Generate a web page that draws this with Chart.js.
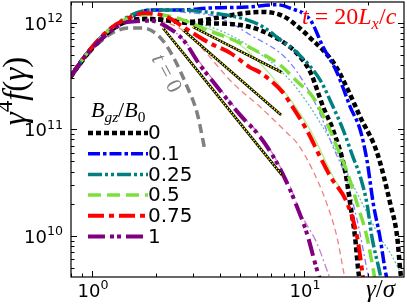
<!DOCTYPE html>
<html>
<head>
<meta charset="utf-8">
<script src="https://cdn.jsdelivr.net/npm/chart.js@4.4.0/dist/chart.umd.min.js"></script>
<style>
  html, body { margin: 0; padding: 0; background: #fff; }
  #wrap { width: 407px; height: 305px; }
</style>
</head>
<body>
<div id="wrap"><canvas id="c" width="407" height="305"></canvas></div>
<script>
// gamma/sigma (x) and gamma^4 f(gamma) (y)
const gT0 = [0.79, 0.98, 1.22, 1.5, 1.74, 2.09, 2.41, 2.81, 3.13, 3.41];
const fT0 = [3.0e11, 5.3e11, 7.8e11, 8.9e11, 8.9e11, 7.3e11, 4.8e11, 2.5e11, 1.42e11, 6.3e10];

const gB0 = [0.79, 0.98, 1.22, 1.51, 1.88, 2.9, 3.89, 4.99, 6.34, 7.96, 9.58, 11.0, 12.3, 14.0, 16.0, 18.4, 22.1, 25.5, 27.5, 28.4, 29.0];
const fB0 = [3.1e11, 5.5e11, 8.4e11, 1.05e12, 1.08e12, 1.02e12, 1.11e12, 1.21e12, 1.26e12, 1.15e12, 8.8e11, 6.8e11, 5.5e11, 4.0e11, 2.4e11, 1.3e11, 6.0e10, 2.0e10, 9.7e9, 4.8e9, 3.5e9];

const gB0b = [0.79, 0.98, 1.22, 1.51, 1.88, 2.9, 4.48, 6.2, 8.59, 9.58, 10.7, 12.3, 13.7, 15.6, 16.5, 17.4, 18.0, 18.3];
const fB0b = [3.1e11, 5.5e11, 8.4e11, 1.05e12, 1.08e12, 9.9e11, 9.7e11, 8.5e11, 5.9e11, 4.76e11, 3.44e11, 1.62e11, 9.8e10, 4.1e10, 2.0e10, 9.7e9, 4.8e9, 3.8e9];

const gB01 = [0.79, 0.98, 1.22, 1.51, 1.88, 2.6, 3.6, 5.38, 7.46, 8.59, 10.7, 12.3, 14.3, 16.5, 18.4, 19.8, 21.2, 22.8, 24.1, 24.6];
const fB01 = [3.1e11, 5.6e11, 8.7e11, 1.12e12, 1.31e12, 1.31e12, 1.37e12, 1.40e12, 1.47e12, 1.37e12, 1.06e12, 5.9e11, 3.4e11, 1.62e11, 9.8e10, 5.1e10, 2.0e10, 9.7e9, 4.8e9, 3.9e9];

const gB025 = [0.79, 0.98, 1.22, 1.51, 1.88, 2.6, 3.72, 5.38, 6.41, 7.71, 9.27, 11.9, 13.7, 15.3, 17.0, 18.4, 19.8, 20.9, 22.6, 23.1];
const fB025 = [3.1e11, 5.6e11, 8.7e11, 1.16e12, 1.31e12, 1.31e12, 1.23e12, 1.06e12, 9.1e11, 6.9e11, 5.2e11, 2.9e11, 1.62e11, 9.8e10, 5.5e10, 3.6e10, 2.0e10, 9.7e9, 4.8e9, 3.9e9];

const gB05 = [0.79, 0.98, 1.22, 1.51, 1.88, 2.33, 2.9, 3.49, 4.62, 6.2, 7.71, 9.27, 11.0, 12.8, 14.3, 16.0, 17.8, 19.8, 21.2, 21.6];
const fB05 = [3.1e11, 5.6e11, 8.7e11, 1.12e12, 1.2e12, 1.15e12, 1.0e12, 8.5e11, 6.9e11, 5.2e11, 4.0e11, 2.8e11, 2.0e11, 1.14e11, 6.8e10, 3.9e10, 2.0e10, 9.7e9, 4.8e9, 3.9e9];

const gB075 = [0.79, 0.98, 1.22, 1.51, 1.78, 2.26, 2.69, 3.6, 4.48, 5.56, 6.2, 7.96, 8.59, 10.3, 11.9, 13.3, 16.0, 17.8, 19.0];
const fB075 = [3.1e11, 5.6e11, 8.8e11, 1.12e12, 1.23e12, 1.13e12, 9.1e11, 6.4e11, 5.2e11, 3.8e11, 3.4e11, 2.2e11, 1.76e11, 9.8e10, 5.5e10, 3.6e10, 2.0e10, 9.7e9, 4.0e9];

const gB1 = [0.79, 0.98, 1.22, 1.46, 1.88, 2.26, 2.69, 3.23, 3.89, 4.99, 6.2, 7.46, 8.59, 9.27, 10.3, 11.5, 11.9];
const fB1 = [3.1e11, 5.5e11, 8.2e11, 1.01e12, 1.04e12, 9.1e11, 6.9e11, 4.0e11, 2.5e11, 1.36e11, 8.5e10, 4.8e10, 2.7e10, 1.86e10, 1.06e10, 4.8e9, 3.9e9];

// thin companion curves
const gThinRed = [1.88, 2.6, 3.23, 4.62, 6.2, 8.32, 9.27, 11.0, 12.8, 14.3, 15.3, 15.6];
const fThinRed = [1.1e12, 8.8e11, 6.0e11, 2.7e11, 1.62e11, 9.2e10, 7.4e10, 4.1e10, 2.0e10, 9.7e9, 4.8e9, 3.9e9];
const gThinPurple = [2.26, 2.69, 3.23, 3.89, 4.99, 6.2, 7.46, 8.59, 9.58, 11.5, 12.8, 13.3];
const fThinPurple = [9.1e11, 7.0e11, 4.2e11, 2.6e11, 1.4e11, 8.8e10, 5.0e10, 2.9e10, 1.66e10, 8.5e9, 4.8e9, 3.9e9];
const gThinBlue = [2.6, 3.89, 5.56, 8.59, 11.5, 13.7, 15.6, 17.8, 19.8, 20.2];
const fThinBlue = [1.26e12, 1.13e12, 7.7e11, 4.2e11, 1.62e11, 6.8e10, 3.7e10, 1.4e10, 4.8e9, 3.9e9];
const gThinTeal = [2.9, 4.62, 7.46, 9.58, 13.3, 18.4, 22.8, 25.5, 28.4];
const fThinTeal = [1.06e12, 7.4e11, 3.8e11, 2.2e11, 7.9e10, 2.2e10, 9.7e9, 6.9e9, 4.6e9];
const gThinGreen = [2.6, 4.99, 7.96, 10.7, 13.7, 15.3];
const fThinGreen = [1.1e12, 6.2e11, 2.33e11, 9.8e10, 3.6e10, 2.5e10];

// power-law guide segments
const gFit1 = [2.16, 7.87];
const fFit1 = [8.9e11, 3.7e10];
const gFit2 = [2.69, 7.8];
const fFit2 = [8.5e11, 1.36e11];
const gFit3 = [2.99, 7.87];
const fFit3 = [9.1e11, 3.4e11];

const xMin = 0.796, xMax = 29.6;
const yMin = 4.1e9, yMax = 1.56e12;

function pts(xs, ys) {
  return xs.map((x, i) => ({ x, y: ys[i] }));
}

function isMajor(v) {
  const l = Math.log10(v);
  return Math.abs(l - Math.round(l)) < 1e-6;
}

function logTicks(scale) {
  const out = [];
  const lo = Math.floor(Math.log10(scale.min));
  const hi = Math.ceil(Math.log10(scale.max));
  for (let e = lo; e <= hi; e++) {
    for (let m = 1; m <= 9; m++) {
      const v = m * Math.pow(10, e);
      if (v >= scale.min * 0.999 && v <= scale.max * 1.001) out.push({ value: v });
    }
  }
  scale.ticks = out;
}

function line(label, xs, ys, color, width, dash, legendRow) {
  return {
    label, data: pts(xs, ys),
    borderColor: color, borderWidth: width, borderDash: dash,
    borderCapStyle: 'butt', pointRadius: 0, fill: false,
    cubicInterpolationMode: 'monotone', clip: 0, legendRow,
  };
}

const datasets = [
  line('fit3', gFit3, fFit3, '#ffff00', 1.4, [1.5, 1.5]),
  line('fit3b', gFit3, fFit3, '#000', 2.6, []),
  line('fit2', gFit2, fFit2, '#ffff00', 1.4, [1.5, 1.5]),
  line('fit2b', gFit2, fFit2, '#000', 2.6, []),
  line('fit1', gFit1, fFit1, '#ffff00', 1.4, [1.5, 1.5]),
  line('fit1b', gFit1, fFit1, '#000', 2.6, []),
  line('1', gB1, fB1, '#800080', 4, [17, 5, 4, 3, 4, 5], 5),
  line('0.75', gB075, fB075, '#ff0000', 4, [16, 5, 5, 5], 4),
  line('0.5', gB05, fB05, '#7ddf3c', 3.5, [13, 6], 3),
  line('0.25', gB025, fB025, '#008080', 3.5, [14, 3, 3, 3, 3, 3], 2),
  line('0.1', gB01, fB01, '#0000ff', 3.5, [12, 3, 3.5, 3], 1),
  line('0', gB0, fB0, '#000000', 4.5, [5, 3], 0),
  line('0b', gB0b, fB0b, '#000000', 4.5, [5, 3]),
  line('t0', gT0, fT0, '#808080', 3.5, [9, 5]),
  line('thinRed', gThinRed, fThinRed, '#f08080', 1.3, [6, 4]),
  line('thinPurple', gThinPurple, fThinPurple, '#c080c8', 1.3, [8, 3, 2, 3]),
  line('thinBlue', gThinBlue, fThinBlue, '#7f7fff', 1.3, [6, 3, 2, 3]),
  line('thinTeal', gThinTeal, fThinTeal, '#66bbbb', 1.3, [2, 2]),
  line('thinGreen', gThinGreen, fThinGreen, '#b0f090', 1.3, []),
];

// draw a run of math-ish text pieces: {t, k: 'sub'|'sup'|'', r: roman}
function drawRich(ctx, parts, x, y, size, align, family, halo) {
  const fam = family || '"Liberation Serif"';
  const fontFor = p => `${p.r ? '' : 'italic '}${p.k ? size * 0.7 : size}px ${fam}`;
  let w = 0;
  for (const p of parts) { ctx.font = fontFor(p); w += ctx.measureText(p.t).width; }
  let cx = align === 'center' ? x - w / 2 : align === 'right' ? x - w : x;
  for (const p of parts) {
    ctx.font = fontFor(p);
    const dy = p.k === 'sub' ? size * 0.22 : p.k === 'sup' ? -size * 0.42 : 0;
    if (halo) {
      ctx.save();
      ctx.strokeStyle = '#fff';
      ctx.lineWidth = 2.5;
      ctx.setLineDash([]);
      ctx.lineJoin = 'round';
      ctx.strokeText(p.t, cx, y + dy);
      ctx.restore();
    }
    ctx.fillText(p.t, cx, y + dy);
    cx += ctx.measureText(p.t).width;
  }
}

function expParts(v) {
  return [{ t: '10', r: true }, { t: String(Math.round(Math.log10(v))), k: 'sup', r: true }];
}

const decor = {
  id: 'decor',
  afterDraw(chart) {
    const { ctx, chartArea: a, scales: { x, y } } = chart;
    ctx.save();
    // frame and inward ticks on all sides
    ctx.strokeStyle = '#000';
    ctx.setLineDash([]);
    ctx.lineWidth = 1.2;
    ctx.strokeRect(a.left, a.top, a.right - a.left, a.bottom - a.top);
    ctx.lineWidth = 1;
    ctx.beginPath();
    for (const t of x.ticks) {
      const px = Math.round(x.getPixelForValue(t.value)) + 0.5;
      const len = isMajor(t.value) ? 6 : 3.5;
      ctx.moveTo(px, a.bottom); ctx.lineTo(px, a.bottom - len);
      ctx.moveTo(px, a.top); ctx.lineTo(px, a.top + len);
    }
    for (const t of y.ticks) {
      const py = Math.round(y.getPixelForValue(t.value)) + 0.5;
      const len = isMajor(t.value) ? 6 : 3.5;
      ctx.moveTo(a.left, py); ctx.lineTo(a.left + len, py);
      ctx.moveTo(a.right, py); ctx.lineTo(a.right - len, py);
    }
    ctx.stroke();

    // tick labels 10^n
    ctx.fillStyle = '#000';
    ctx.textBaseline = 'alphabetic';
    for (const t of x.ticks) {
      if (!isMajor(t.value)) continue;
      drawRich(ctx, expParts(t.value), x.getPixelForValue(t.value) + 1, 297, 18, 'center', '"DejaVu Sans"');
    }
    for (const t of y.ticks) {
      if (!isMajor(t.value)) continue;
      drawRich(ctx, expParts(t.value), 63, y.getPixelForValue(t.value) + 7, 18, 'right', '"DejaVu Sans"');
    }

    // legend
    drawRich(ctx, [{ t: 'B' }, { t: 'gz', k: 'sub' }, { t: '/', r: true }, { t: 'B' }, { t: '0', k: 'sub', r: true }], 91, 117, 22);
    const rows = chart.data.datasets.filter(d => d.legendRow !== undefined)
      .sort((p, q) => p.legendRow - q.legendRow);
    rows.forEach((d, i) => {
      const ly = 133 + i * 20.7;
      ctx.strokeStyle = d.borderColor;
      ctx.lineWidth = d.borderWidth;
      ctx.setLineDash(d.borderDash);
      ctx.beginPath();
      ctx.moveTo(88, ly); ctx.lineTo(148, ly);
      ctx.stroke();
      ctx.setLineDash([]);
      ctx.fillStyle = '#000';
      ctx.font = '20px "DejaVu Sans"';
      ctx.textBaseline = 'middle';
      ctx.fillText(d.label, 148, ly + 1);
    });

    // annotations
    ctx.textBaseline = 'alphabetic';
    ctx.fillStyle = '#ff0000';
    drawRich(ctx, [{ t: 't' }, { t: ' = 20', r: true }, { t: 'L' }, { t: 'x', k: 'sub' }, { t: '/', r: true }, { t: 'c' }], 302, 24, 24, 'left', null, true);

    ctx.fillStyle = '#808080';
    ctx.save();
    ctx.translate(167, 73);
    ctx.rotate(62 * Math.PI / 180);
    drawRich(ctx, [{ t: 't' }, { t: ' = 0', r: true }], 0, 7, 22, 'center');
    ctx.restore();

    // axis titles
    ctx.fillStyle = '#000';
    ctx.save();
    ctx.translate(26, 91);
    ctx.rotate(-Math.PI / 2);
    drawRich(ctx, [{ t: '\u03b3' }, { t: '4', k: 'sup', r: true }, { t: 'f' }, { t: '(', r: true }, { t: '\u03b3' }, { t: ')', r: true }], 0, 0, 33, 'center');
    ctx.restore();
    drawRich(ctx, [{ t: '\u03b3' }, { t: '/', r: true }, { t: '\u03c3' }], 366, 297, 25);
    ctx.restore();
  },
};

new Chart(document.getElementById('c'), {
  type: 'line',
  data: { datasets },
  options: {
    responsive: false,
    animation: false,
    events: [],
    layout: { padding: { top: 2, right: 3, left: 0, bottom: 0 } },
    plugins: { legend: { display: false }, tooltip: { enabled: false } },
    scales: {
      x: {
        type: 'logarithmic', min: xMin, max: xMax,
        afterBuildTicks: logTicks,
        afterFit: s => { s.height = 28; s.paddingLeft = 0; s.paddingRight = 0; },
        grid: { display: false, drawTicks: false },
        border: { display: false },
        ticks: { display: false },
      },
      y: {
        type: 'logarithmic', min: yMin, max: yMax,
        afterBuildTicks: logTicks,
        afterFit: s => { s.width = 71; s.paddingTop = 0; s.paddingBottom = 0; },
        grid: { display: false, drawTicks: false },
        border: { display: false },
        ticks: { display: false },
      },
    },
  },
  plugins: [decor],
});
</script>
</body>
</html>
